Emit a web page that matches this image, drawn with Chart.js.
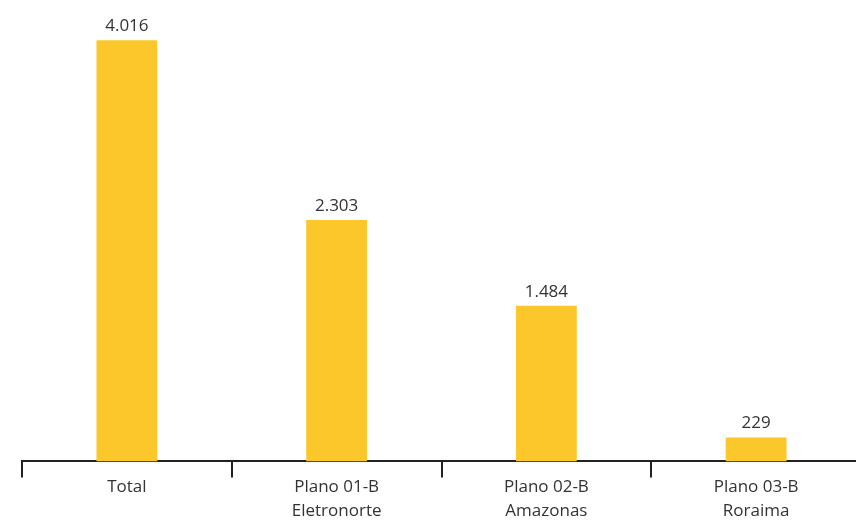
<!DOCTYPE html>
<html>
<head>
<script src="https://cdn.jsdelivr.net/npm/chart.js@4.4.0/dist/chart.umd.min.js"></script>
<style>
body { margin: 0; background: #fff; overflow: hidden; }
#wrap { width: 856px; height: 522px; overflow: hidden; }
#box { width: 870px; height: 522px; }
</style>
</head>
<body>
<div id="wrap"><div id="box"><canvas id="chart"></canvas></div></div>
<script>
// categorias e valores
var labels = [["Total"], ["Plano 01-B", "Eletronorte"], ["Plano 02-B", "Amazonas"], ["Plano 03-B", "Roraima"]];
var values = [4016, 2303, 1484, 229];
var valueText = ["4.016", "2.303", "1.484", "229"];

// rótulos acima das barras
var barLabels = {
  id: "barLabels",
  afterDatasetsDraw: function(chart) {
    var ctx = chart.ctx;
    var meta = chart.getDatasetMeta(0);
    ctx.save();
    ctx.font = "17px 'Open Sans'";
    ctx.fillStyle = "#333";
    ctx.textAlign = "center";
    ctx.textBaseline = "alphabetic";
    meta.data.forEach(function(bar, i) {
      ctx.fillText(valueText[i], bar.x, bar.y - 9);
    });
    ctx.restore();
  }
};

new Chart(document.getElementById("chart"), {
  type: "bar",
  data: {
    labels: labels,
    datasets: [{
      data: values,
      backgroundColor: "#FCC72A",
      categoryPercentage: 0.29,
      barPercentage: 1
    }]
  },
  options: {
    responsive: true,
    maintainAspectRatio: false,
    animation: false,
    layout: { padding: { top: 20, left: 22, right: 9, bottom: 1 } },
    plugins: { legend: { display: false }, tooltip: { enabled: false } },
    scales: {
      y: { display: false, min: 0, max: 4210 },
      x: {
        offset: true,
        border: { display: true, color: "#222", width: 2 },
        grid: { offset: true, drawOnChartArea: false, color: "#222", lineWidth: 2, tickLength: 16 },
        ticks: { color: "#333", font: { family: "'Open Sans'", size: 17, lineHeight: 1.4 }, padding: -2, maxRotation: 0 }
      }
    }
  },
  plugins: [barLabels]
});
</script>
</body>
</html>
